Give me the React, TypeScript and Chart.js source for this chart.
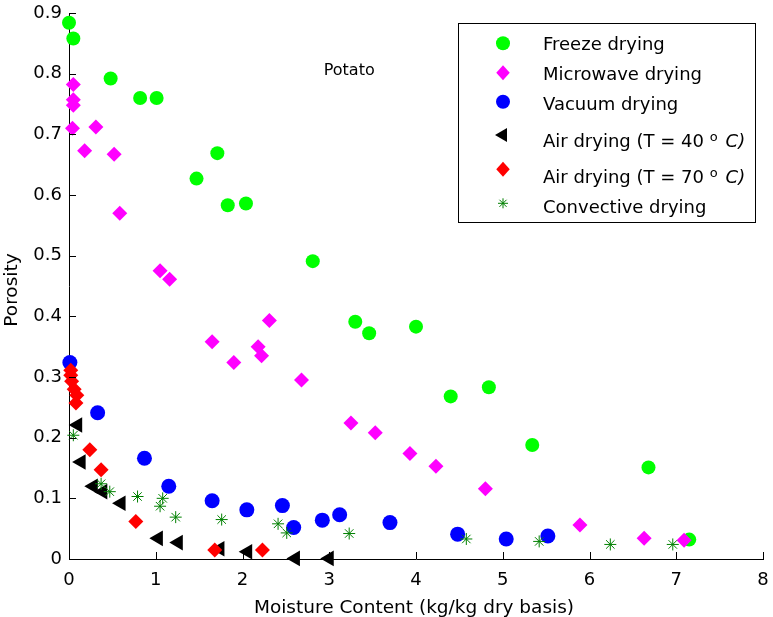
import React, { useEffect, useRef } from "react";
import { Chart, registerables } from "chart.js";

Chart.register(...registerables);

const FONT = "'DejaVu Sans', 'Liberation Sans', Arial, sans-serif";

// Axis ticks
const xTickValues = [0, 1, 2, 3, 4, 5, 6, 7, 8];
const xTickLabels = ["0", "1", "2", "3", "4", "5", "6", "7", "8"];
const yTickValues = [0, 0.1, 0.2, 0.3, 0.4, 0.5, 0.6, 0.7, 0.8, 0.9];
const yTickLabels = ["0", "0.1", "0.2", "0.3", "0.4", "0.5", "0.6", "0.7", "0.8", "0.9"];

const xTitle = "Moisture Content (kg/kg dry basis)";
const yTitle = "Porosity";
const annotation = "Potato";
const annotationX = 3.23;
const annotationY = 0.805;

// Series names
const seriesNames = [
  "Freeze drying",
  "Microwave drying",
  "Vacuum drying",
  "Air drying (T = 40 ",
  "Air drying (T = 70 ",
  "Convective drying",
];

// Freeze drying
const freezeX = [0, 0.05, 0.48, 0.82, 1.01, 1.47, 1.71, 1.83, 2.04, 2.81, 3.3, 3.46, 4.0, 4.4, 4.84, 5.34, 6.68, 7.15];
const freezeY = [0.884, 0.858, 0.792, 0.76, 0.76, 0.627, 0.669, 0.583, 0.586, 0.491, 0.391, 0.372, 0.383, 0.268, 0.283, 0.188, 0.151, 0.032];

// Microwave drying
const microX = [0.05, 0.05, 0.05, 0.04, 0.18, 0.31, 0.52, 0.585, 1.05, 1.16, 1.65, 1.9, 2.18, 2.22, 2.31, 2.68, 3.25, 3.53, 3.93, 4.23, 4.8, 5.89, 6.63, 7.09];
const microY = [0.782, 0.757, 0.748, 0.71, 0.673, 0.712, 0.667, 0.57, 0.475, 0.461, 0.358, 0.324, 0.35, 0.335, 0.393, 0.295, 0.224, 0.208, 0.174, 0.153, 0.116, 0.056, 0.034, 0.031];

// Vacuum drying
const vacuumX = [0.01, 0.33, 0.87, 1.15, 1.65, 2.05, 2.46, 2.59, 2.92, 3.12, 3.7, 4.48, 5.04, 5.52];
const vacuumY = [0.324, 0.241, 0.166, 0.12, 0.096, 0.081, 0.088, 0.052, 0.064, 0.073, 0.06, 0.041, 0.033, 0.038];

// Air drying 40 C
const air40X = [0.1, 0.14, 0.28, 0.39, 0.6, 1.03, 1.26, 1.74, 2.06, 2.61, 3.0];
const air40Y = [0.221, 0.16, 0.12, 0.111, 0.092, 0.034, 0.027, 0.017, 0.012, 0.001, 0.001];

// Air drying 70 C
const air70X = [0.02, 0.02, 0.03, 0.06, 0.09, 0.08, 0.24, 0.37, 0.77, 1.68, 2.23];
const air70Y = [0.311, 0.303, 0.293, 0.28, 0.27, 0.257, 0.18, 0.147, 0.062, 0.015, 0.015];

// Convective drying
const convX = [0.05, 0.37, 0.47, 0.79, 1.08, 1.05, 1.23, 1.76, 2.41, 2.51, 3.23, 4.58, 5.42, 6.24, 6.96];
const convY = [0.204, 0.124, 0.111, 0.103, 0.1, 0.087, 0.069, 0.065, 0.058, 0.043, 0.042, 0.033, 0.029, 0.024, 0.024];

const COLORS = ["#00ff00", "#ff00ff", "#0000ff", "#000000", "#ff0000", "#008000"];

function pts(xs: number[], ys: number[]) {
  return xs.map((x, i) => ({ x, y: ys[i] }));
}

function drawMarker(ctx: CanvasRenderingContext2D, kind: string, x: number, y: number, r: number, color: string) {
  ctx.save();
  ctx.fillStyle = color;
  ctx.strokeStyle = color;
  ctx.beginPath();
  if (kind === "circle") {
    ctx.arc(x, y, r, 0, Math.PI * 2);
    ctx.fill();
  } else if (kind === "diamond") {
    ctx.moveTo(x, y - r);
    ctx.lineTo(x + r * 0.9, y);
    ctx.lineTo(x, y + r);
    ctx.lineTo(x - r * 0.9, y);
    ctx.closePath();
    ctx.fill();
  } else if (kind === "triLeft") {
    ctx.moveTo(x - r, y);
    ctx.lineTo(x + r / 2, y - r * 0.866);
    ctx.lineTo(x + r / 2, y + r * 0.866);
    ctx.closePath();
    ctx.fill();
  } else if (kind === "star") {
    ctx.lineWidth = 1;
    for (let k = 0; k < 4; k++) {
      const a = (k * Math.PI) / 4;
      ctx.moveTo(x - Math.cos(a) * r, y - Math.sin(a) * r);
      ctx.lineTo(x + Math.cos(a) * r, y + Math.sin(a) * r);
    }
    ctx.stroke();
  }
  ctx.restore();
}

export default function App() {
  const ref = useRef<HTMLCanvasElement>(null);

  useEffect(() => {
    const canvas = ref.current;
    if (!canvas) return;

    const overlay = {
      id: "overlay",
      afterDraw(chart: any) {
        const ctx: CanvasRenderingContext2D = chart.ctx;
        const xs = chart.scales.x;
        const ys = chart.scales.y;
        const area = chart.chartArea;
        ctx.save();
        // inward tick marks
        ctx.strokeStyle = "#000";
        ctx.lineWidth = 1;
        ctx.beginPath();
        xTickValues.forEach((v) => {
          const px = Math.round(xs.getPixelForValue(v)) + 0.5;
          ctx.moveTo(px, area.bottom);
          ctx.lineTo(px, area.bottom - 7);
        });
        yTickValues.forEach((v) => {
          const py = Math.round(ys.getPixelForValue(v)) + 0.5;
          ctx.moveTo(area.left, py);
          ctx.lineTo(area.left + 7, py);
        });
        ctx.stroke();

        // axis titles
        ctx.fillStyle = "#000";
        ctx.font = `18.5px ${FONT}`;
        ctx.textAlign = "center";
        ctx.textBaseline = "alphabetic";
        ctx.fillText(xTitle, (area.left + area.right) / 2 - 2, 613);
        ctx.save();
        ctx.translate(17, (area.top + area.bottom) / 2 + 4);
        ctx.rotate(-Math.PI / 2);
        ctx.fillText(yTitle, 0, 0);
        ctx.restore();

        // annotation
        ctx.font = `16px ${FONT}`;
        ctx.textBaseline = "middle";
        ctx.fillText(annotation, xs.getPixelForValue(annotationX), ys.getPixelForValue(annotationY));

        // legend
        const bx = 458.5, by = 23.5, bw = 297, bh = 199;
        ctx.fillStyle = "#fff";
        ctx.fillRect(bx, by, bw, bh);
        ctx.strokeStyle = "#000";
        ctx.lineWidth = 1;
        ctx.strokeRect(bx, by, bw, bh);
        const markerX = 503;
        const textX = 543;
        const kinds = ["circle", "diamond", "circle", "triLeft", "diamond", "star"];
        const radii = [7, 7.5, 7, 8, 7.5, 5];
        const markerY = [43.3, 72.7, 101.7, 135, 169.3, 203.3];
        const baseY = [50, 80, 110, 147, 183, 213];
        ctx.textAlign = "left";
        ctx.textBaseline = "alphabetic";
        seriesNames.forEach((name, i) => {
          drawMarker(ctx, kinds[i], markerX, markerY[i], radii[i], COLORS[i]);
          ctx.fillStyle = "#000";
          ctx.font = `18px ${FONT}`;
          ctx.fillText(name, textX, baseY[i]);
          if (i === 3 || i === 4) {
            let cx = textX + ctx.measureText(name).width;
            ctx.font = `13px ${FONT}`;
            ctx.fillText("o", cx, baseY[i] - 6);
            cx += ctx.measureText("o").width + 8;
            ctx.font = `italic 18px ${FONT}`;
            ctx.fillText("C)", cx, baseY[i]);
          }
        });
        ctx.restore();
      },
    };

    const tickFont = { family: FONT, size: 18 };

    const chart = new Chart(canvas, {
      type: "scatter",
      data: {
        datasets: [
          { label: seriesNames[0], data: pts(freezeX, freezeY), pointStyle: "circle", pointRadius: 7, backgroundColor: COLORS[0], borderColor: COLORS[0], borderWidth: 0, order: 6 },
          { label: seriesNames[1], data: pts(microX, microY), pointStyle: "rectRot", pointRadius: 7.5, backgroundColor: COLORS[1], borderColor: COLORS[1], borderWidth: 0, order: 5 },
          { label: seriesNames[2], data: pts(vacuumX, vacuumY), pointStyle: "circle", pointRadius: 7.5, backgroundColor: COLORS[2], borderColor: COLORS[2], borderWidth: 0, order: 4 },
          { label: seriesNames[3], data: pts(air40X, air40Y), pointStyle: "triangle", pointRotation: -90, pointRadius: 9, backgroundColor: COLORS[3], borderColor: COLORS[3], borderWidth: 0, order: 3 },
          { label: seriesNames[4], data: pts(air70X, air70Y), pointStyle: "rectRot", pointRadius: 7.5, backgroundColor: COLORS[4], borderColor: COLORS[4], borderWidth: 0, order: 2 },
          { label: seriesNames[5], data: pts(convX, convY), pointStyle: "star", pointRadius: 6, backgroundColor: COLORS[5], borderColor: COLORS[5], borderWidth: 1, order: 1 },
        ] as any,
      },
      options: {
        responsive: false,
        animation: false,
        events: [],
        layout: { padding: { top: 13, right: 10, left: 0, bottom: 0 } },
        datasets: { scatter: { clip: false } } as any,
        plugins: {
          legend: { display: false },
          tooltip: { enabled: false },
          title: { display: false },
        },
        scales: {
          x: {
            type: "linear",
            min: 0,
            max: 8,
            afterFit: (s: any) => {
              s.height = 58;
              s.paddingLeft = 0;
              s.paddingRight = 0;
            },
            afterBuildTicks: (s: any) => {
              s.ticks = xTickValues.map((v) => ({ value: v }));
            },
            ticks: {
              callback: (v: any) => xTickLabels[xTickValues.indexOf(Number(v))] ?? "",
              font: tickFont,
              color: "#000",
              padding: 11,
              maxRotation: 0,
              autoSkip: false,
            },
            grid: { display: false, drawTicks: false },
            border: { display: true, color: "#000", width: 1 },
          },
          y: {
            type: "linear",
            min: 0,
            max: 0.9,
            afterFit: (s: any) => {
              s.width = 69;
              s.paddingTop = 0;
              s.paddingBottom = 0;
            },
            afterBuildTicks: (s: any) => {
              s.ticks = yTickValues.map((v) => ({ value: v }));
            },
            ticks: {
              callback: (v: any) => {
                const idx = yTickValues.findIndex((t) => Math.abs(t - Number(v)) < 1e-9);
                return idx >= 0 ? yTickLabels[idx] : "";
              },
              font: tickFont,
              color: "#000",
              padding: 7,
              autoSkip: false,
            },
            grid: { display: false, drawTicks: false },
            border: { display: true, color: "#000", width: 1 },
          },
        },
      } as any,
      plugins: [overlay],
    });

    return () => chart.destroy();
  }, []);

  return (
    <div style={{ position: "absolute", left: 0, top: 0, width: 773, height: 617, background: "#fff" }}>
      <canvas ref={ref} width={773} height={617} style={{ display: "block", width: 773, height: 617 }} />
    </div>
  );
}
